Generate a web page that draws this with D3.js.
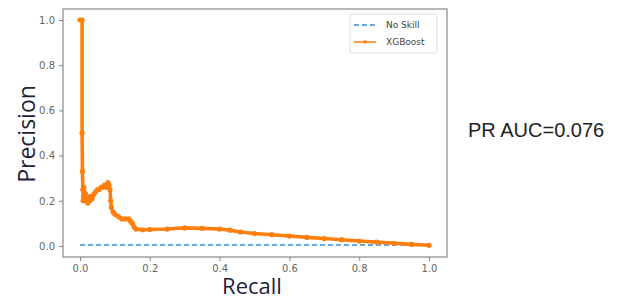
<!DOCTYPE html>
<html>
<head>
<meta charset="utf-8">
<script src="https://cdn.jsdelivr.net/npm/d3@7"></script>
<style>
  body { margin: 0; background: #fff; }
  .axis text { font-family: "DejaVu Sans", sans-serif; font-size: 10px; fill: #666; }
  .axis path, .axis line { stroke: #888; }
</style>
</head>
<body>
<div id="vis"></div>
<script>
// PR curve values
var recall = [0.000, 0.006, 0.006, 0.007, 0.008, 0.009, 0.010, 0.011, 0.012, 0.014, 0.016, 0.018, 0.020, 0.022,
  0.025, 0.028, 0.031, 0.035, 0.040, 0.045, 0.050, 0.055, 0.060, 0.065, 0.070, 0.075, 0.080, 0.083, 0.086,
  0.088, 0.090, 0.095, 0.100, 0.110, 0.120, 0.130, 0.140, 0.145, 0.150, 0.155, 0.160, 0.180, 0.200, 0.250,
  0.300, 0.350, 0.400, 0.430, 0.460, 0.500, 0.550, 0.600, 0.650, 0.700, 0.750, 0.800, 0.850, 0.900, 0.950, 1.000];
var precision = [1.00, 1.00, 0.50, 0.33, 0.25, 0.20, 0.22, 0.26, 0.24, 0.21, 0.23, 0.20, 0.22, 0.19,
  0.21, 0.20, 0.22, 0.21, 0.23, 0.24, 0.25, 0.25, 0.26, 0.26, 0.27, 0.26, 0.28, 0.27, 0.25,
  0.20, 0.17, 0.15, 0.14, 0.13, 0.12, 0.12, 0.12, 0.11, 0.10, 0.085, 0.075, 0.072, 0.073, 0.075,
  0.080, 0.078, 0.075, 0.070, 0.062, 0.055, 0.050, 0.044, 0.038, 0.033, 0.028, 0.022, 0.017, 0.012, 0.007, 0.003];
var noSkill = [0.004, 0.004];
var noSkillRecall = [0, 1];
var ticks = [0, 0.2, 0.4, 0.6, 0.8, 1.0];
var aucText = "PR AUC=0.076";

var W = 624, H = 302;
var frame = {left: 63, top: 9, right: 447, bottom: 257};

var svg = d3.select("#vis").append("svg")
  .attr("width", W)
  .attr("height", H);

var x = d3.scaleLinear().domain([0, 1]).range([80, 429]);
var y = d3.scaleLinear().domain([0, 1]).range([246, 20]);

// axes box
svg.append("rect")
  .attr("x", frame.left).attr("y", frame.top)
  .attr("width", frame.right - frame.left).attr("height", frame.bottom - frame.top)
  .attr("fill", "none").attr("stroke", "#888").attr("stroke-width", 1.2);

svg.append("g")
  .attr("class", "axis")
  .attr("transform", "translate(0," + frame.bottom + ")")
  .call(d3.axisBottom(x).tickValues(ticks).tickFormat(d3.format(".1f")).tickSize(4).tickPadding(4))
  .call(function(g){ g.select(".domain").remove(); });

svg.append("g")
  .attr("class", "axis")
  .attr("transform", "translate(" + frame.left + ",0)")
  .call(d3.axisLeft(y).tickValues(ticks).tickFormat(d3.format(".1f")).tickSize(4).tickPadding(4))
  .call(function(g){ g.select(".domain").remove(); });

// no skill line
var nsData = noSkillRecall.map(function(r, i){ return [r, noSkill[i]]; });
svg.append("path")
  .attr("d", d3.line().x(function(d){ return x(d[0]); }).y(function(d){ return y(d[1]); })(nsData))
  .attr("fill", "none")
  .attr("stroke", "#3a8fd0")
  .attr("stroke-width", 1.5)
  .attr("stroke-dasharray", "5,3");

// xgboost curve
var pr = recall.map(function(r, i){ return [r, precision[i]]; });
svg.append("path")
  .attr("d", d3.line().x(function(d){ return x(d[0]); }).y(function(d){ return y(d[1]); })(pr))
  .attr("fill", "none")
  .attr("stroke", "#ff7f0e")
  .attr("stroke-width", 3.6)
  .attr("stroke-linejoin", "round")
  .attr("stroke-linecap", "round");

svg.append("g").selectAll("circle")
  .data(pr)
  .join("circle")
  .attr("cx", function(d){ return x(d[0]); })
  .attr("cy", function(d){ return y(d[1]); })
  .attr("r", 2.6)
  .attr("fill", "#ff7f0e");

// legend
var lg = svg.append("g").attr("transform", "translate(350,14)");
lg.append("rect")
  .attr("width", 87).attr("height", 39).attr("rx", 2)
  .attr("fill", "#fff").attr("stroke", "#ddd");
lg.append("line")
  .attr("x1", 4).attr("x2", 26).attr("y1", 11).attr("y2", 11)
  .attr("stroke", "#3a8fd0").attr("stroke-width", 1.5).attr("stroke-dasharray", "5,3");
lg.append("line")
  .attr("x1", 4).attr("x2", 26).attr("y1", 28).attr("y2", 28)
  .attr("stroke", "#ff7f0e").attr("stroke-width", 1.5);
lg.append("circle").attr("cx", 15).attr("cy", 28).attr("r", 1.8).attr("fill", "#ff7f0e");
lg.selectAll("text.lab")
  .data(["No Skill", "XGBoost"])
  .join("text")
  .attr("class", "lab")
  .attr("x", 36)
  .attr("y", function(d, i){ return 14 + i * 17; })
  .attr("font-family", "DejaVu Sans, sans-serif")
  .attr("font-size", 9)
  .attr("fill", "#444")
  .text(function(d){ return d; });

// axis titles
svg.append("text")
  .attr("x", 252).attr("y", 294)
  .attr("text-anchor", "middle")
  .attr("font-family", "Open Sans, sans-serif")
  .attr("font-size", 22)
  .attr("fill", "#1c2238")
  .text("Recall");

svg.append("text")
  .attr("transform", "translate(35,134) rotate(-90)")
  .attr("text-anchor", "middle")
  .attr("font-family", "Open Sans, sans-serif")
  .attr("font-size", 23)
  .attr("fill", "#1c2238")
  .text("Precision");

svg.append("text")
  .attr("x", 468).attr("y", 137)
  .attr("font-family", "Liberation Sans, Arial, sans-serif")
  .attr("font-size", 20)
  .attr("fill", "#222")
  .text(aucText);
</script>
</body>
</html>
